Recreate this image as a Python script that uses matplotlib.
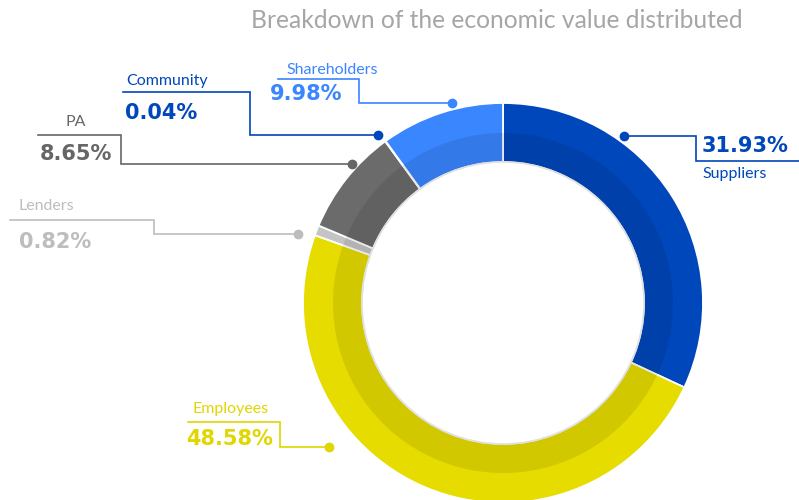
import matplotlib.pyplot as plt
from matplotlib.patches import Wedge, Circle

labels = ["Suppliers", "Employees", "Lenders", "PA", "Community", "Shareholders"]
shares = [31.93, 48.58, 0.82, 8.65, 0.04, 9.98]
colors = ["#0047bb", "#e6dc00", "#c4c4c4", "#6b6b6b", "#0047bb", "#3a86ff"]
text_colors = ["#0047bb", "#e0d600", "#bdbdbd", "#666666", "#0047bb", "#3a86ff"]

W, H = 799, 500
cx, cy = 503, 303

# leader layout in pixel coords (y down): polyline from dot, name pos, value pos
leaders = {
    "Shareholders": dict(pts=[(452, 103), (359, 103), (359, 79), (278, 79)],
                         name=(332, 70), value=(306, 94), ha="center"),
    "Community": dict(pts=[(378, 135), (250, 135), (250, 92), (123, 92)],
                      name=(126, 81), value=(125, 113), ha="left"),
    "PA": dict(pts=[(352, 164), (121, 164), (121, 135), (38, 135)],
               name=(76, 122), value=(76, 154), ha="center"),
    "Lenders": dict(pts=[(298, 234), (154, 234), (154, 220), (10, 220)],
                    name=(19, 206), value=(19, 242), ha="left"),
    "Employees": dict(pts=[(329, 447), (280, 447), (280, 422), (188, 422)],
                      name=(231, 409), value=(230, 439), ha="center"),
    "Suppliers": dict(pts=[(624, 136), (696, 136), (696, 161), (799, 161)],
                      name=(702, 174), value=(702, 146), ha="left"),
}

fig = plt.figure(figsize=(W / 100, H / 100), dpi=100)
ax = fig.add_axes([0, 0, 1, 1])

ax.pie(shares, radius=200, center=(cx, H - cy), startangle=90, counterclock=False,
       colors=colors, wedgeprops=dict(width=59, edgecolor="white", linewidth=1.3))
# darker inner band
ax.add_patch(Wedge((cx, H - cy), 170, 0, 360, width=29, facecolor="black",
                   alpha=0.09, edgecolor="none"))
ax.add_patch(Circle((cx, H - cy), 141, fill=False, edgecolor="#e0e0e0", linewidth=1.2))
ax.set_xlim(0, W)
ax.set_ylim(0, H)
ax.set_aspect("equal")
ax.axis("off")

for lab, col in zip(labels, text_colors):
    ld = leaders[lab]
    xs = [p[0] for p in ld["pts"]]
    ys = [H - p[1] for p in ld["pts"]]
    ax.plot(xs, ys, color=col, linewidth=1.2, solid_joinstyle="miter")
    ax.plot(xs[0], ys[0], "o", color=col, markersize=6)
    val = shares[labels.index(lab)]
    ax.text(ld["name"][0], H - ld["name"][1], lab, color=col, fontsize=11.5,
            family="Lato", ha=ld["ha"], va="center")
    ax.text(ld["value"][0], H - ld["value"][1], f"{val:.2f}%", color=col, fontsize=15,
            family="DejaVu Sans", fontweight="bold", ha=ld["ha"], va="center")

ax.text(497, H - 21, "Breakdown of the economic value distributed", color="#a6a6a6",
        fontsize=17.7, family="Lato", ha="center", va="center")

fig.savefig("out.png", dpi=100)
